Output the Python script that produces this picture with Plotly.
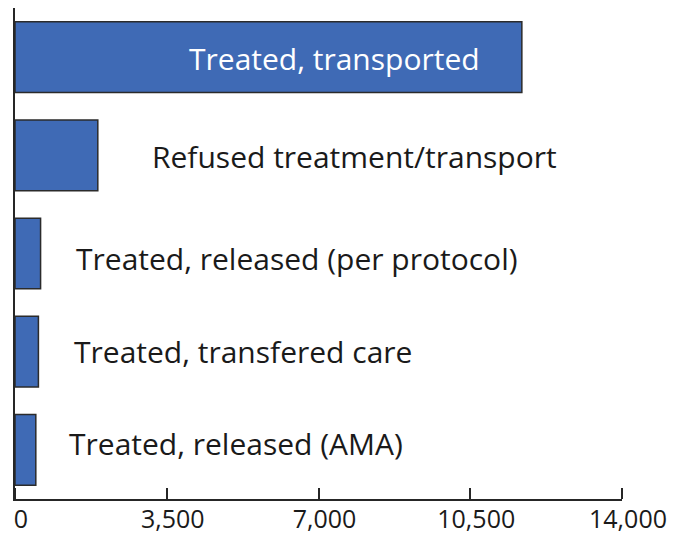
import plotly.graph_objects as go

categories = [
    "Treated, transported",
    "Refused treatment/transport",
    "Treated, released (per protocol)",
    "Treated, transfered care",
    "Treated, released (AMA)",
]
counts = [11690, 1910, 590, 540, 480]
label_x = [7380, 7840, 6500, 5260, 5100]
label_colors = ["white", "#1a1a1a", "#1a1a1a", "#1a1a1a", "#1a1a1a"]
tick_vals = [0, 3500, 7000, 10500, 14000]
tick_text = ["0", "3,500", "7,000", "10,500", "14,000"]

fig = go.Figure()

fig.add_trace(go.Bar(
    y=categories,
    x=counts,
    orientation="h",
    marker=dict(color="#3f6ab5", line=dict(color="#2b2b2b", width=1.5)),
    width=0.72,
    hoverinfo="x+y",
))

# empty trace so the helper tick axis (x2) gets drawn
fig.add_trace(go.Scatter(x=[], y=[], xaxis="x2", yaxis="y", showlegend=False))

# small vertical nudges so the labels sit like in the source image
nudges = [-1, -1, -5, 0, 6]
for cat, lx, col, dy in zip(categories, label_x, label_colors, nudges):
    fig.add_annotation(
        x=lx, y=cat, text=cat, showarrow=False,
        xanchor="center", yanchor="middle", yshift=dy,
        font=dict(family="Open Sans", size=30, color=col),
    )

axis_col = "#262626"

# page body has an 8px margin, so the figure is sized/offset to compensate
fig.update_layout(
    width=692,
    height=527,
    margin=dict(l=7, r=78, t=0, b=36),
    plot_bgcolor="white",
    paper_bgcolor="white",
    showlegend=False,
    font=dict(family="Open Sans", size=25, color="#1a1a1a"),
    xaxis=dict(
        range=[0, 14000],
        tickmode="array",
        tickvals=tick_vals,
        ticktext=tick_text,
        ticks="inside",
        ticklen=11,
        tickwidth=2,
        tickcolor=axis_col,
        ticklabelshift=6,
        ticklabelstandoff=-3,
        ticklabeloverflow="allow",
        showline=True,
        linecolor=axis_col,
        linewidth=2,
        showgrid=False,
        zeroline=False,
        automargin=False,
        tickfont=dict(size=25),
    ),
    # helper axis: top-sided, parked at the bottom, so its ticks point up
    xaxis2=dict(
        overlaying="x",
        anchor="free",
        position=0,
        side="top",
        range=[0, 14000],
        tickmode="array",
        tickvals=tick_vals,
        ticks="outside",
        ticklen=11,
        tickwidth=2,
        tickcolor=axis_col,
        showticklabels=False,
        showline=False,
        showgrid=False,
        zeroline=False,
        automargin=False,
    ),
    yaxis=dict(
        autorange="reversed",
        showticklabels=False,
        showline=True,
        linecolor=axis_col,
        linewidth=2,
        showgrid=False,
        zeroline=False,
        automargin=False,
    ),
)

fig.write_html("out.html")
